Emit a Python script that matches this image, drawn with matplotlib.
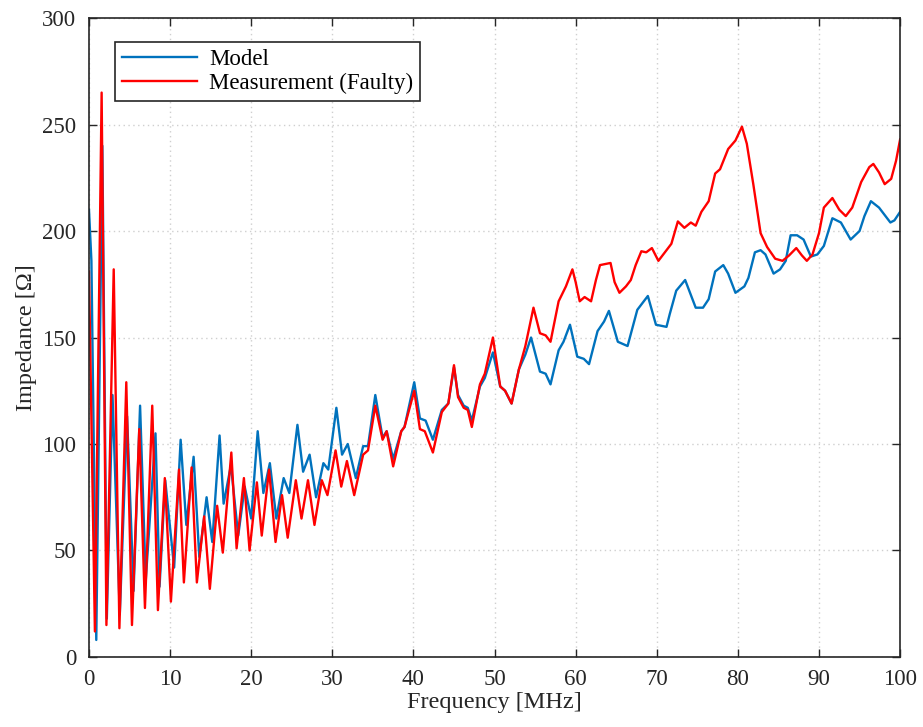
import matplotlib
matplotlib.use("Agg")
import matplotlib.pyplot as plt

# Model curve (blue): frequency [MHz] and impedance [Ohm] read at peaks/troughs
model_freq = [0, 0.3, 0.9, 1.65, 2.2, 2.9, 3.8, 4.7, 5.5, 6.3, 7.0, 8.2, 8.7, 9.4,
              10.5, 11.3, 12.0, 12.9, 13.6, 14.5, 15.2, 16.1, 16.6, 17.5, 18.4, 19.2,
              20.0, 20.8, 21.5, 22.3, 23.1, 24.0, 24.7, 25.7, 26.4, 27.2, 28.0, 28.9,
              29.5, 30.5, 31.2, 31.9, 32.9, 33.8, 34.4, 35.3, 36.2, 36.7, 37.5, 38.5,
              38.9, 40.1, 40.8, 41.5, 42.4, 43.5, 44.3, 45.0, 45.5, 46.2, 46.7, 47.2,
              48.2, 48.8, 49.8, 50.7, 51.3, 52.1, 53.0, 53.8, 54.5, 55.6, 56.3, 56.9,
              57.9, 58.5, 59.3, 60.2, 61.0, 61.65, 62.7, 63.5, 64.1, 65.2, 66.4, 67.6,
              68.9, 69.9, 71.2, 71.6, 72.4, 73.5, 74.1, 74.8, 75.7, 76.4, 77.2, 78.2,
              78.8, 79.7, 80.8, 81.3, 82.1, 82.8, 83.4, 84.4, 85.2, 85.9, 86.5, 87.3,
              88.1, 89.0, 89.8, 90.6, 91.65, 92.7, 93.9, 95.0, 95.6, 96.4, 97.4, 98.8,
              99.3, 100]
model_imp = [210, 186, 8, 240, 18, 123, 20, 113, 31, 118, 36, 105, 33, 83,
             42, 102, 62, 94, 47, 75, 54, 104, 72, 90, 57, 80,
             65, 106, 77, 91, 65, 84, 77, 109, 87, 95, 75, 91,
             88, 117, 95, 100, 84, 99, 99, 123, 103, 106, 93, 106,
             108, 129, 112, 111, 102, 116, 119, 136, 123, 118, 117, 111,
             127, 131, 143, 127, 125, 119, 135, 142, 150, 134, 133, 128,
             144, 148, 156, 141, 140, 137.5, 153, 157.5, 162.5, 148, 146, 163,
             169.5, 156, 155, 161, 172, 177, 171, 164, 164, 168, 181, 184,
             180, 171, 174, 178, 190, 191, 189, 180, 182, 186, 198, 198,
             196, 188, 189, 193, 206, 204, 196, 200, 207, 214, 211, 204,
             205, 209]

# Measurement (Faulty) curve (red)
meas_freq = [0, 0.73, 1.56, 2.15, 3.05, 3.75, 4.6, 5.3, 6.2, 6.9, 7.8, 8.5, 9.35,
             10.1, 11.1, 11.7, 12.65, 13.3, 14.2, 14.9, 15.8, 16.5, 17.55, 18.2, 19.1,
             19.8, 20.7, 21.3, 22.2, 23.0, 23.8, 24.5, 25.5, 26.2, 27.0, 27.8, 28.7,
             29.4, 30.4, 31.1, 31.8, 32.7, 33.8, 34.4, 35.3, 36.2, 36.7, 37.5, 38.5,
             38.9, 40.1, 40.8, 41.4, 42.4, 43.5, 44.3, 45.0, 45.5, 46.2, 46.7, 47.2,
             48.2, 48.8, 49.8, 50.7, 51.3, 52.1, 53.0, 53.8, 54.8, 55.6, 56.3, 56.9,
             57.9, 58.8, 59.6, 60.0, 60.5, 61.1, 61.9, 62.5, 63.0, 64.3, 64.8, 65.4,
             66.2, 66.8, 67.4, 68.1, 68.7, 69.4, 70.2, 71.2, 71.8, 72.6, 73.4, 74.2,
             74.8, 75.5, 76.4, 77.2, 77.8, 78.8, 79.7, 80.5, 81.1, 81.9, 82.8, 83.6,
             84.6, 85.5, 86.3, 87.2, 87.9, 88.5, 89.2, 90.0, 90.6, 91.65, 92.5, 93.3,
             94.1, 95.2, 96.2, 96.7, 97.4, 98.1, 98.9, 99.5, 100]
meas_imp = [181, 12, 265, 15, 182, 13.5, 129, 15, 107, 23, 118, 22, 84,
            26, 88, 35, 89, 35, 66, 32, 71, 49, 96, 51, 84,
            50, 82, 57, 88, 54, 76, 56, 83, 65, 83, 62, 83,
            76, 97, 80, 92, 76, 95, 97, 118, 102, 106, 89.5, 106,
            108, 125, 107, 106, 96, 115, 119, 137, 122, 117, 116, 108,
            128, 133, 150, 127, 125, 119, 135, 146, 164, 152, 151, 148,
            167, 174, 182, 176, 167, 169, 167, 177, 184, 185, 176, 171,
            174, 177, 184, 190.5, 190, 192, 186, 191, 194, 204.5, 201.5, 204,
            202.5, 209, 214, 227, 229, 238.5, 242.5, 249, 241, 222, 199, 192.5,
            187, 186, 188.5, 192, 188.5, 186, 189, 199, 211, 215.5, 210, 207,
            211, 223, 230, 231.5, 227.5, 222, 224.5, 233, 243]

x_ticks = list(range(0, 101, 10))
y_ticks = list(range(0, 301, 50))

plt.rcParams["font.family"] = ["Liberation Serif", "DejaVu Serif"]

fig = plt.figure(figsize=(9.23, 7.27), dpi=100)
ax = fig.add_axes([0.0964, 0.0963, 0.8788, 0.8789])

ax.plot(model_freq, model_imp, color="#0072BD", lw=1.7, label="Model")
ax.plot(meas_freq, meas_imp, color="#FF0000", lw=1.7, label="Measurement (Faulty)")

ax.set_xlim(0, 100)
ax.set_ylim(0, 300)
ax.set_xticks(x_ticks)
ax.set_yticks(y_ticks)
ax.tick_params(direction="in", length=6, width=1, top=True, right=True,
               labelsize=16.5, pad=9, colors="#262626")
ax.grid(True, linestyle=(0, (1, 2.5)), color="#cfcfcf", linewidth=1)
for s in ax.spines.values():
    s.set_linewidth(1.2)
    s.set_color("#262626")

ax.set_xlabel("Frequency [MHz]", fontsize=17.5, color="#262626", labelpad=1)
ax.set_ylabel("Impedance [Ω]", fontsize=17.5, color="#262626", labelpad=4)

leg = ax.legend(loc="upper left", bbox_to_anchor=(26 / 811, 1 - 24 / 639),
                borderaxespad=0, fontsize=16.5, frameon=True, fancybox=False,
                framealpha=1, edgecolor="#262626", handlelength=3.3,
                labelspacing=0.12, borderpad=0.3, handletextpad=0.5)
leg.get_frame().set_linewidth(1.2)

fig.savefig("out.png", dpi=100)
